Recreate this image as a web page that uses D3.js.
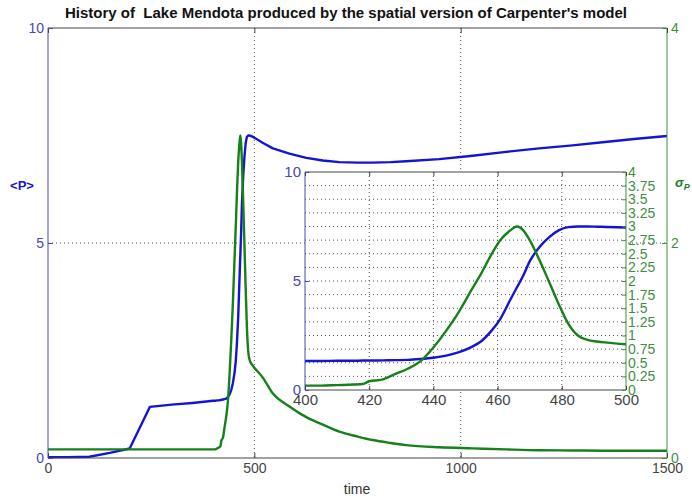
<!DOCTYPE html>
<html>
<head>
<meta charset="utf-8">
<script src="https://cdn.jsdelivr.net/npm/d3@7/dist/d3.min.js"></script>
<style>
  html, body { margin: 0; padding: 0; background: #fff; }
  svg { display: block; font-family: "Liberation Sans", Arial, sans-serif; }
</style>
</head>
<body>
<svg id="chart" width="692" height="497"></svg>
<script>
// Simulated history of Lake Mendota: mean phosphorus <P> and its spread sigma_P
const timeSteps = [0, 50, 100, 150, 198, 247, 300, 350, 400, 405, 410, 415, 418, 420, 424, 428,
  432, 436, 440, 444, 448, 452, 455, 458, 461, 464, 466, 468, 470, 473, 476, 479, 482, 485,
  488, 491, 494, 500, 520, 545, 585, 626, 666, 706, 750, 787, 830, 868, 948, 1029, 1110,
  1190, 1271, 1350, 1420, 1500];
const meanP = [0.02, 0.02, 0.03, 0.12, 0.22, 1.19, 1.24, 1.28, 1.33, 1.33, 1.34, 1.34, 1.35, 1.35,
  1.36, 1.37, 1.38, 1.42, 1.48, 1.58, 1.74, 1.98, 2.25, 2.7, 3.3, 4.15, 4.7, 5.25, 5.9, 6.55,
  7.0, 7.32, 7.47, 7.5, 7.5, 7.49, 7.48, 7.45, 7.33, 7.2, 7.08, 6.98, 6.92, 6.88, 6.87, 6.87,
  6.88, 6.9, 6.95, 7.03, 7.12, 7.2, 7.27, 7.35, 7.42, 7.49];
const sigmaP = [0.08, 0.08, 0.08, 0.08, 0.08, 0.08, 0.08, 0.08, 0.08, 0.08, 0.09, 0.1, 0.11, 0.16,
  0.19, 0.29, 0.39, 0.53, 0.78, 1.09, 1.44, 1.85, 2.15, 2.48, 2.76, 2.93, 3.0, 2.93, 2.75, 2.39,
  1.99, 1.58, 1.22, 1.0, 0.92, 0.89, 0.87, 0.84, 0.75, 0.6, 0.48, 0.38, 0.31, 0.245, 0.2, 0.167,
  0.14, 0.12, 0.1, 0.09, 0.08, 0.072, 0.07, 0.068, 0.068, 0.068];

const mainTimeTicks = [0, 500, 1000, 1500];
const mainPTicks = [0, 5, 10];
const mainSigmaTicks = [0, 2, 4];
const zoomTimeTicks = [400, 420, 440, 460, 480, 500];
const zoomPTicks = [0, 5, 10];
const zoomSigmaTicks = [0, 0.25, 0.5, 0.75, 1, 1.25, 1.5, 1.75, 2, 2.25, 2.5, 2.75, 3, 3.25, 3.5, 3.75, 4];

const titleText = "History of  Lake Mendota produced by the spatial version of Carpenter's model";

const BLUE = "#1414d4", GREEN = "#17801a";
const BLUE_AX = "#4848b8", GREEN_AX = "#3f8f3f", GRAY_AX = "#444";

const rows = timeSteps.map((t, i) => ({ t, p: meanP[i], s: sigmaP[i] }));
const svg = d3.select("#chart");
svg.append("rect").attr("width", 692).attr("height", 497).attr("fill", "#fff");

function dotted(sel) {
  return sel.attr("stroke", "#555").attr("stroke-width", 1).attr("stroke-dasharray", "1,3").attr("fill", "none");
}

function styleAxis(g, color, fontSize) {
  g.select(".domain").remove();
  g.selectAll(".tick line").attr("stroke", color);
  g.selectAll(".tick text").attr("fill", color).attr("font-size", fontSize)
    .attr("font-family", "Liberation Sans, Arial, sans-serif");
}

// ---------- main panel ----------
const M = { l: 48, r: 667, t: 28, b: 458 };
const x = d3.scaleLinear().domain([0, 1500]).range([M.l, M.r]);
const yP = d3.scaleLinear().domain([0, 10]).range([M.b, M.t]);
const yS = d3.scaleLinear().domain([0, 4]).range([M.b, M.t]);

const main = svg.append("g");
// grid
main.selectAll(".vg").data([500, 1000]).join("line")
  .attr("x1", d => x(d)).attr("x2", d => x(d)).attr("y1", M.t).attr("y2", M.b).call(dotted);
main.selectAll(".hg").data([5]).join("line")
  .attr("x1", M.l).attr("x2", M.r).attr("y1", d => yP(d)).attr("y2", d => yP(d)).call(dotted);

const lineP = d3.line().x(d => x(d.t)).y(d => yP(d.p));
const lineS = d3.line().x(d => x(d.t)).y(d => yS(d.s)).curve(d3.curveMonotoneX);
main.append("path").datum(rows).attr("d", lineP).attr("fill", "none")
  .attr("stroke", BLUE).attr("stroke-width", 2.4).attr("stroke-linejoin", "round");
main.append("path").datum(rows).attr("d", lineS).attr("fill", "none")
  .attr("stroke", GREEN).attr("stroke-width", 2.4).attr("stroke-linejoin", "round");

// frame
main.append("line").attr("x1", M.l).attr("x2", M.r).attr("y1", M.t).attr("y2", M.t).attr("stroke", GRAY_AX);
main.append("line").attr("x1", M.l).attr("x2", M.r).attr("y1", M.b).attr("y2", M.b).attr("stroke", GRAY_AX);
main.append("line").attr("x1", M.l).attr("x2", M.l).attr("y1", M.t).attr("y2", M.b).attr("stroke", BLUE_AX);
main.append("line").attr("x1", M.r).attr("x2", M.r).attr("y1", M.t).attr("y2", M.b).attr("stroke", GREEN_AX);

main.append("g").attr("transform", `translate(0,${M.b})`)
  .call(d3.axisBottom(x).tickValues(mainTimeTicks).tickSize(-5).tickPadding(5).tickFormat(d3.format("d")))
  .call(g => styleAxis(g, GRAY_AX, 14));
main.append("g").attr("transform", `translate(0,${M.t})`)
  .call(d3.axisTop(x).tickValues(mainTimeTicks).tickSize(-5).tickFormat(""))
  .call(g => styleAxis(g, GRAY_AX, 14));
main.append("g").attr("transform", `translate(${M.l},0)`)
  .call(d3.axisLeft(yP).tickValues(mainPTicks).tickSize(-5).tickPadding(4).tickFormat(d3.format("d")))
  .call(g => styleAxis(g, BLUE_AX, 14));
main.append("g").attr("transform", `translate(${M.r},0)`)
  .call(d3.axisRight(yS).tickValues(mainSigmaTicks).tickSize(-5).tickPadding(4).tickFormat(d3.format("d")))
  .call(g => styleAxis(g, GREEN_AX, 14));

// titles and axis names
svg.append("text").attr("x", 346).attr("y", 18).attr("text-anchor", "middle")
  .style("white-space", "pre").attr("xml:space", "preserve")
  .attr("font-size", 15).attr("font-weight", "bold").attr("fill", "#111").text(titleText);
svg.append("text").attr("x", 357).attr("y", 494).attr("text-anchor", "middle")
  .attr("font-size", 14).attr("fill", "#333").text("time");
svg.append("text").attr("x", 22).attr("y", 190).attr("text-anchor", "middle")
  .attr("font-size", 13).attr("font-weight", "bold").attr("fill", BLUE).text("<P>");
const sig = svg.append("text").attr("x", 675).attr("y", 187)
  .attr("font-size", 13).attr("font-weight", "bold").attr("font-style", "italic").attr("fill", GREEN);
sig.append("tspan").text("σ");
sig.append("tspan").attr("font-size", 9).attr("dy", 3).text("P");

// ---------- zoomed inset ----------
const I = { l: 305, r: 626, t: 172, b: 390 };
const xi = d3.scaleLinear().domain([400, 500]).range([I.l, I.r]);
const yiP = d3.scaleLinear().domain([0, 10]).range([I.b, I.t]);
const yiS = d3.scaleLinear().domain([0, 4]).range([I.b, I.t]);

const inset = svg.append("g");
inset.append("rect").attr("x", I.l).attr("y", I.t).attr("width", I.r - I.l).attr("height", I.b - I.t).attr("fill", "#fff");
inset.append("clipPath").attr("id", "insetClip").append("rect")
  .attr("x", I.l).attr("y", I.t - 2).attr("width", I.r - I.l).attr("height", I.b - I.t + 4);

inset.selectAll(".ivg").data(zoomTimeTicks.slice(1, -1)).join("line")
  .attr("x1", d => xi(d)).attr("x2", d => xi(d)).attr("y1", I.t).attr("y2", I.b).call(dotted);
inset.selectAll(".ihg").data(zoomSigmaTicks.slice(1, -1)).join("line")
  .attr("x1", I.l).attr("x2", I.r).attr("y1", d => yiS(d)).attr("y2", d => yiS(d)).call(dotted);

const zoomRows = rows.filter(d => d.t >= 390 && d.t <= 505);
const lineIP = d3.line().x(d => xi(d.t)).y(d => yiP(d.p)).curve(d3.curveMonotoneX);
const lineIS = d3.line().x(d => xi(d.t)).y(d => yiS(d.s)).curve(d3.curveMonotoneX);
const plotArea = inset.append("g").attr("clip-path", "url(#insetClip)");
plotArea.append("path").datum(zoomRows).attr("d", lineIP).attr("fill", "none")
  .attr("stroke", BLUE).attr("stroke-width", 2.4).attr("stroke-linejoin", "round");
plotArea.append("path").datum(zoomRows).attr("d", lineIS).attr("fill", "none")
  .attr("stroke", GREEN).attr("stroke-width", 2.4).attr("stroke-linejoin", "round");

inset.append("line").attr("x1", I.l).attr("x2", I.r).attr("y1", I.t).attr("y2", I.t).attr("stroke", GRAY_AX);
inset.append("line").attr("x1", I.l).attr("x2", I.r).attr("y1", I.b).attr("y2", I.b).attr("stroke", GRAY_AX);
inset.append("line").attr("x1", I.l).attr("x2", I.l).attr("y1", I.t).attr("y2", I.b).attr("stroke", BLUE_AX);
inset.append("line").attr("x1", I.r).attr("x2", I.r).attr("y1", I.t).attr("y2", I.b).attr("stroke", GREEN_AX);

inset.append("g").attr("transform", `translate(0,${I.b})`)
  .call(d3.axisBottom(xi).tickValues(zoomTimeTicks).tickSize(-4).tickPadding(4).tickFormat(d3.format("d")))
  .call(g => styleAxis(g, GRAY_AX, 15));
inset.append("g").attr("transform", `translate(0,${I.t})`)
  .call(d3.axisTop(xi).tickValues(zoomTimeTicks).tickSize(-4).tickFormat(""))
  .call(g => styleAxis(g, GRAY_AX, 15));
inset.append("g").attr("transform", `translate(${I.l},0)`)
  .call(d3.axisLeft(yiP).tickValues(zoomPTicks).tickSize(-4).tickPadding(4).tickFormat(d3.format("d")))
  .call(g => styleAxis(g, BLUE_AX, 15));
inset.append("g").attr("transform", `translate(${I.r},0)`)
  .call(d3.axisRight(yiS).tickValues(zoomSigmaTicks).tickSize(-4).tickPadding(2).tickFormat(d3.format("~g")))
  .call(g => styleAxis(g, GREEN_AX, 14));
</script>
</body>
</html>
